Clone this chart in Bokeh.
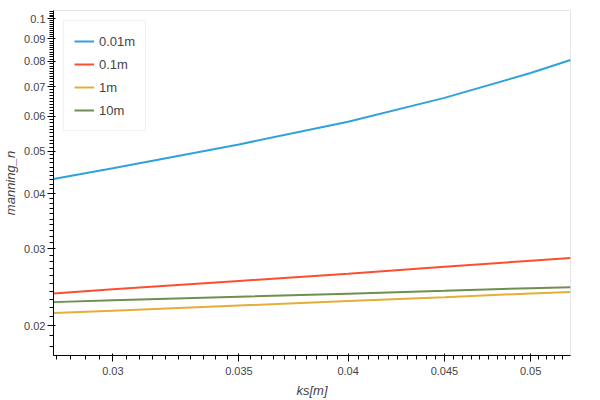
from bokeh.plotting import figure
from bokeh.models import Range1d
from bokeh.embed import file_html
from bokeh.resources import INLINE

ks = [0.0279, 0.030, 0.035, 0.040, 0.045, 0.050, 0.0525]
n_001 = [0.04323, 0.04573, 0.05179, 0.05832, 0.06611, 0.07531, 0.0806]
n_01 = [0.0237, 0.02423, 0.02532, 0.02628, 0.02726, 0.02815, 0.02857]
n_1 = [0.02140, 0.02167, 0.02226, 0.02278, 0.02326, 0.02371, 0.02391]
n_10 = [0.02266, 0.02287, 0.02331, 0.02369, 0.02404, 0.02438, 0.02451]
labels = ["0.01m", "0.1m", "1m", "10m"]
colors = ["#30a2da", "#fc4f30", "#e5ae38", "#6d904f"]

FONT = "Liberation Sans"

p = figure(width=600, height=400, x_axis_type="log", y_axis_type="log",
           output_backend="svg", toolbar_location=None,
           x_range=Range1d(0.0279, 0.0525), y_range=Range1d(0.01713, 0.1045),
           min_border_left=40, min_border_right=30, min_border_top=10,
           min_border_bottom=44)

for ys, lab, c in zip([n_001, n_01, n_1, n_10], labels, colors):
    p.line(ks, ys, color=c, line_width=2, legend_label=lab)

p.grid.visible = False
p.xaxis.axis_label = "ks[m]"
p.yaxis.axis_label = "manning_n"
for ax in p.axis:
    ax.axis_label_text_font = FONT
    ax.major_label_text_font = FONT
p.yaxis.major_label_standoff = 2
p.yaxis.axis_label_standoff = 3
p.legend.location = "top_left"
p.legend.label_text_font = FONT

open("out.html", "w").write(file_html(p, INLINE))
